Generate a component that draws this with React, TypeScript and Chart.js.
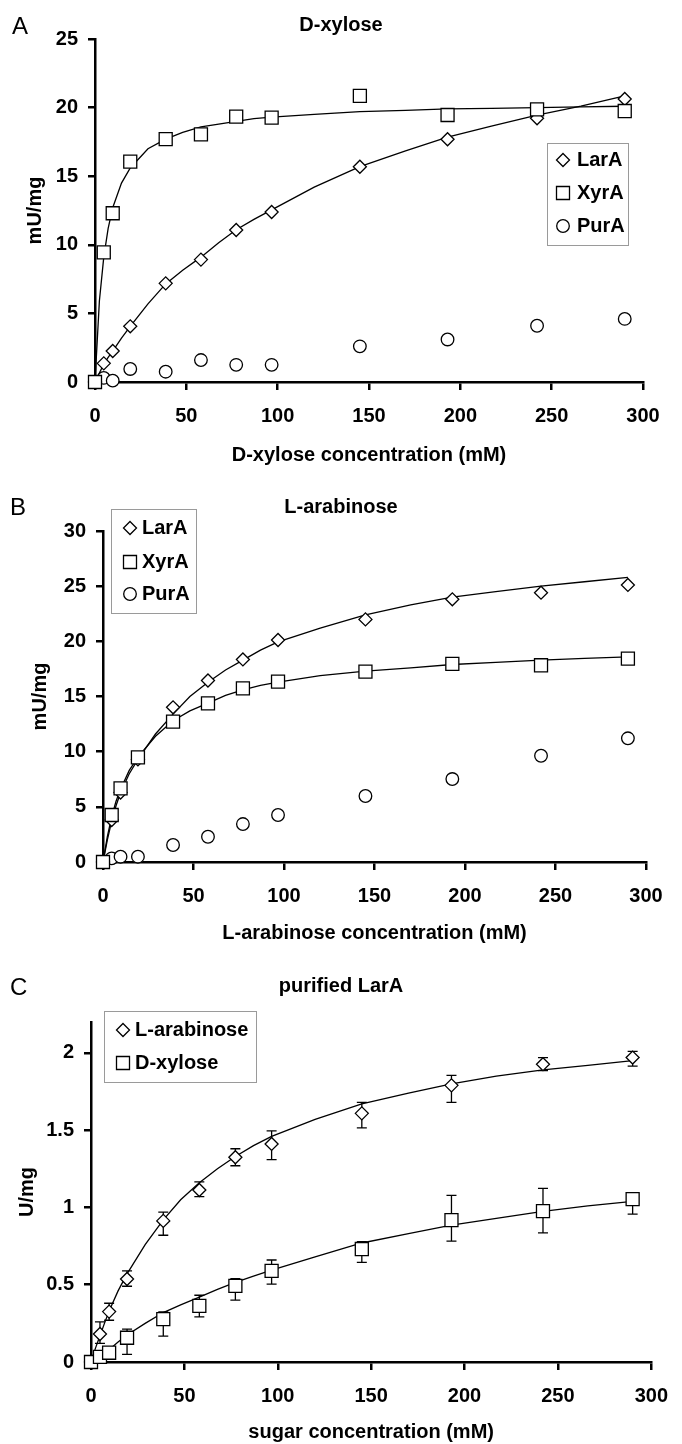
import React, { useEffect, useRef } from 'react';
import { Chart, registerables } from 'chart.js';

Chart.register(...registerables);

const FONT = "'Liberation Sans', Arial, Helvetica, sans-serif";

// ---------- data ----------
const conc = [0, 4.8, 9.7, 19.3, 38.7, 58, 77.3, 96.7, 145, 193, 242, 290];
const fitConc = [0, 2.4, 4.8, 7.2, 9.7, 14.5, 19.3, 29, 38.7, 48, 58, 67.7, 77.3, 87, 96.7, 120, 145, 170, 193, 217, 242, 266, 290];

const xTickValues = [0, 50, 100, 150, 200, 250, 300];
const yTickValuesA = [0, 5, 10, 15, 20, 25];
const yTickValuesB = [0, 5, 10, 15, 20, 25, 30];
const yTickValuesC = [0, 0.5, 1, 1.5, 2];

// Panel A – D-xylose (mU/mg)
const xylLarA = [0, 1.36, 2.26, 4.06, 7.19, 8.92, 11.08, 12.39, 15.69, 17.69, 19.22, 20.63];
const xylXyrA = [0, 9.45, 12.3, 16.06, 17.7, 18.05, 19.34, 19.27, 20.85, 19.46, 19.87, 19.75];
const xylPurA = [0, 0.3, 0.1, 0.95, 0.75, 1.6, 1.25, 1.25, 2.6, 3.1, 4.1, 4.6];
const xylLarAFit = [0, 0.65, 1.3, 1.8, 2.25, 3.2, 4.05, 5.7, 7.15, 8.15, 9.1, 10.15, 11.1, 11.85, 12.55, 14.2, 15.7, 16.85, 17.85, 18.65, 19.45, 20.1, 20.85];
const xylXyrAFit = [0, 5.9, 9.1, 11.2, 12.7, 14.5, 15.6, 17.0, 17.7, 18.2, 18.6, 18.8, 19.0, 19.2, 19.3, 19.5, 19.7, 19.8, 19.9, 19.95, 20.0, 20.05, 20.1];

// Panel B – L-arabinose (mU/mg)
const araLarA = [0, 3.8, 6.3, 9.3, 14.02, 16.45, 18.36, 20.12, 21.99, 23.81, 24.41, 25.11];
const araXyrA = [0, 4.26, 6.68, 9.49, 12.72, 14.37, 15.73, 16.34, 17.25, 17.95, 17.83, 18.44];
const araPurA = [0, 0.33, 0.48, 0.48, 1.54, 2.29, 3.44, 4.26, 5.98, 7.52, 9.63, 11.21];
const araLarAFit = [0, 2.0, 3.7, 5.1, 6.3, 8.0, 9.3, 11.6, 13.4, 15.0, 16.3, 17.4, 18.3, 19.2, 19.95, 21.2, 22.4, 23.3, 24.0, 24.5, 25.0, 25.4, 25.8];
const araXyrAFit = [0, 2.3, 4.1, 5.5, 6.6, 8.3, 9.5, 11.4, 12.8, 13.7, 14.4, 15.1, 15.6, 16.0, 16.3, 16.9, 17.3, 17.6, 17.9, 18.1, 18.3, 18.45, 18.6];

// Panel C – purified LarA (U/mg)
const purAra = [0, 0.181, 0.326, 0.537, 0.913, 1.113, 1.325, 1.411, 1.609, 1.79, 1.927, 1.97];
const purAraHi = [null, 0.26, 0.38, 0.59, 0.97, 1.165, 1.38, 1.495, 1.68, 1.855, 1.97, 2.01];
const purAraLo = [null, 0.12, 0.27, 0.49, 0.82, 1.07, 1.27, 1.31, 1.515, 1.68, 1.885, 1.915];
const purXyl = [0, 0.033, 0.06, 0.157, 0.277, 0.363, 0.493, 0.59, 0.731, 0.918, 0.976, 1.054];
const purXylHi = [null, 0.06, 0.09, 0.213, 0.324, 0.432, 0.54, 0.66, 0.778, 1.078, 1.123, 1.06];
const purXylLo = [null, 0.01, 0.03, 0.049, 0.168, 0.292, 0.4, 0.504, 0.644, 0.782, 0.836, 0.957];
const purAraFit = [0, 0.09, 0.17, 0.25, 0.33, 0.46, 0.57, 0.76, 0.92, 1.05, 1.16, 1.25, 1.33, 1.4, 1.46, 1.57, 1.67, 1.74, 1.8, 1.85, 1.89, 1.92, 1.95];
const purXylFit = [0, 0.02, 0.04, 0.06, 0.08, 0.13, 0.175, 0.25, 0.32, 0.37, 0.42, 0.47, 0.515, 0.555, 0.595, 0.68, 0.77, 0.83, 0.885, 0.93, 0.975, 1.01, 1.04];

// ---------- types ----------
type Marker = 'diamond' | 'square' | 'circle';
interface Series {
  label: string;
  marker: Marker;
  y: number[];
  fit?: number[];
  hi?: (number | null)[];
  lo?: (number | null)[];
}
interface PanelSpec {
  top: number;
  height: number;
  area: { l: number; t: number; r: number; b: number };
  yMax: number;
  yTicks: number[];
  letter: string;
  letterPos: [number, number];
  title: string;
  titlePos: [number, number];
  xTitle: string;
  xTitleY: number;
  yTitle: string;
  yTitleX: number;
  legend: { x: number; y: number; w: number; h: number; markerX: number; textX: number; rows: number[] };
  series: Series[];
}

const panels: PanelSpec[] = [
  {
    top: 0,
    height: 470,
    area: { l: 95, t: 39, r: 643, b: 382 },
    yMax: 25,
    yTicks: yTickValuesA,
    letter: 'A',
    letterPos: [12, 27],
    title: 'D-xylose',
    titlePos: [341, 25],
    xTitle: 'D-xylose concentration (mM)',
    xTitleY: 455,
    yTitle: 'mU/mg',
    yTitleX: 35,
    legend: { x: 547, y: 143, w: 81, h: 102, markerX: 563, textX: 577, rows: [160, 193, 226] },
    series: [
      { label: 'LarA', marker: 'diamond', y: xylLarA, fit: xylLarAFit },
      { label: 'XyrA', marker: 'square', y: xylXyrA, fit: xylXyrAFit },
      { label: 'PurA', marker: 'circle', y: xylPurA },
    ],
  },
  {
    top: 470,
    height: 480,
    area: { l: 103, t: 61, r: 646, b: 392 },
    yMax: 30,
    yTicks: yTickValuesB,
    letter: 'B',
    letterPos: [10, 38],
    title: 'L-arabinose',
    titlePos: [341, 37],
    xTitle: 'L-arabinose concentration (mM)',
    xTitleY: 463,
    yTitle: 'mU/mg',
    yTitleX: 40,
    legend: { x: 111, y: 39, w: 85, h: 104, markerX: 130, textX: 142, rows: [58, 92, 124] },
    series: [
      { label: 'LarA', marker: 'diamond', y: araLarA, fit: araLarAFit },
      { label: 'XyrA', marker: 'square', y: araXyrA, fit: araXyrAFit },
      { label: 'PurA', marker: 'circle', y: araPurA },
    ],
  },
  {
    top: 950,
    height: 494,
    area: { l: 91, t: 72, r: 661, b: 412 },
    yMax: 2.2,
    yTicks: yTickValuesC,
    letter: 'C',
    letterPos: [10, 38],
    title: 'purified LarA',
    titlePos: [341, 36],
    xTitle: 'sugar concentration (mM)',
    xTitleY: 482,
    yTitle: 'U/mg',
    yTitleX: 27,
    legend: { x: 104, y: 61, w: 152, h: 71, markerX: 123, textX: 135, rows: [80, 113] },
    series: [
      { label: 'L-arabinose', marker: 'diamond', y: purAra, fit: purAraFit, hi: purAraHi, lo: purAraLo },
      { label: 'D-xylose', marker: 'square', y: purXyl, fit: purXylFit, hi: purXylHi, lo: purXylLo },
    ],
  },
];

const styleOf: Record<Marker, { ps: string; r: number; order: number }> = {
  diamond: { ps: 'rectRot', r: 6.5, order: 2 },
  square: { ps: 'rect', r: 9.2, order: 1 },
  circle: { ps: 'circle', r: 6.3, order: 3 },
};

function drawMarker(ctx: CanvasRenderingContext2D, m: Marker, x: number, y: number) {
  ctx.beginPath();
  if (m === 'diamond') {
    const r = 6.5;
    ctx.moveTo(x, y - r);
    ctx.lineTo(x + r, y);
    ctx.lineTo(x, y + r);
    ctx.lineTo(x - r, y);
    ctx.closePath();
  } else if (m === 'square') {
    const h = 6.5;
    ctx.rect(x - h, y - h, 2 * h, 2 * h);
  } else {
    ctx.arc(x, y, 6.3, 0, Math.PI * 2);
  }
  ctx.fillStyle = '#fff';
  ctx.fill();
  ctx.lineWidth = 1.3;
  ctx.strokeStyle = '#000';
  ctx.stroke();
}

function buildConfig(spec: PanelSpec): any {
  const datasets: any[] = [];
  spec.series.forEach((s) => {
    const st = styleOf[s.marker];
    datasets.push({
      label: s.label,
      data: conc.map((x, i) => ({ x, y: s.y[i] })),
      showLine: false,
      pointStyle: st.ps,
      pointRadius: st.r,
      pointHoverRadius: st.r,
      pointBackgroundColor: '#fff',
      pointBorderColor: '#000',
      pointBorderWidth: 1.3,
      clip: false,
      order: st.order,
    });
    if (s.fit) {
      datasets.push({
        label: s.label + ' fit',
        data: fitConc.map((x, i) => ({ x, y: s.fit![i] })),
        showLine: true,
        borderColor: '#000',
        borderWidth: 1.3,
        pointRadius: 0,
        pointHoverRadius: 0,
        fill: false,
        tension: 0,
        clip: false,
        order: 10,
      });
    }
  });

  const tickFont = { family: FONT, size: 20, weight: 'bold' as const };
  const { area } = spec;

  const deco = {
    id: 'deco',
    beforeDatasetsDraw(chart: any) {
      const ctx: CanvasRenderingContext2D = chart.ctx;
      const xs = chart.scales.x;
      const ys = chart.scales.y;
      ctx.save();
      ctx.strokeStyle = '#000';
      ctx.lineWidth = 1.3;
      spec.series.forEach((s) => {
        if (!s.hi || !s.lo) return;
        conc.forEach((x, i) => {
          const hi = s.hi![i];
          const lo = s.lo![i];
          if (hi == null || lo == null) return;
          const px = xs.getPixelForValue(x);
          const yh = ys.getPixelForValue(hi);
          const yl = ys.getPixelForValue(lo);
          ctx.beginPath();
          ctx.moveTo(px, yh);
          ctx.lineTo(px, yl);
          ctx.moveTo(px - 5, yh);
          ctx.lineTo(px + 5, yh);
          ctx.moveTo(px - 5, yl);
          ctx.lineTo(px + 5, yl);
          ctx.stroke();
        });
      });
      ctx.restore();
    },
    afterDraw(chart: any) {
      const ctx: CanvasRenderingContext2D = chart.ctx;
      ctx.save();
      ctx.fillStyle = '#000';
      // panel letter
      ctx.font = `24px ${FONT}`;
      ctx.textAlign = 'left';
      ctx.textBaseline = 'middle';
      ctx.fillText(spec.letter, spec.letterPos[0], spec.letterPos[1]);
      // title
      ctx.font = `bold 20px ${FONT}`;
      ctx.textAlign = 'center';
      ctx.fillText(spec.title, spec.titlePos[0], spec.titlePos[1]);
      // x title
      ctx.fillText(spec.xTitle, (chart.chartArea.left + chart.chartArea.right) / 2, spec.xTitleY);
      // y title
      ctx.save();
      ctx.translate(spec.yTitleX, (chart.chartArea.top + chart.chartArea.bottom) / 2);
      ctx.rotate(-Math.PI / 2);
      ctx.fillText(spec.yTitle, 0, 0);
      ctx.restore();
      // legend
      const lg = spec.legend;
      ctx.fillStyle = '#fff';
      ctx.fillRect(lg.x, lg.y, lg.w, lg.h);
      ctx.strokeStyle = '#9a9a9a';
      ctx.lineWidth = 1;
      ctx.strokeRect(lg.x + 0.5, lg.y + 0.5, lg.w, lg.h);
      spec.series.forEach((s, i) => {
        drawMarker(ctx, s.marker, lg.markerX, lg.rows[i]);
        ctx.fillStyle = '#000';
        ctx.font = `bold 20px ${FONT}`;
        ctx.textAlign = 'left';
        ctx.textBaseline = 'middle';
        ctx.fillText(s.label, lg.textX, lg.rows[i]);
      });
      ctx.restore();
    },
  };

  return {
    type: 'scatter',
    data: { datasets },
    plugins: [deco],
    options: {
      animation: false,
      responsive: false,
      maintainAspectRatio: false,
      events: [],
      layout: { padding: { left: 0, top: area.t, right: 682 - area.r, bottom: 0 } },
      plugins: {
        legend: { display: false },
        tooltip: { enabled: false },
        title: { display: false },
      },
      scales: {
        x: {
          type: 'linear',
          min: 0,
          max: 300,
          afterBuildTicks: (s: any) => {
            s.ticks = xTickValues.map((v) => ({ value: v }));
          },
          afterFit: (s: any) => {
            s.height = spec.height - area.b;
          },
          ticks: {
            font: tickFont,
            color: '#000',
            padding: 14,
            maxRotation: 0,
            autoSkip: false,
            callback: (v: any) => String(v),
          },
          grid: { display: true, drawOnChartArea: false, drawTicks: true, tickLength: 8, color: '#000', lineWidth: 2.5 },
          border: { display: true, color: '#000', width: 2.5 },
        },
        y: {
          type: 'linear',
          min: 0,
          max: spec.yMax,
          afterBuildTicks: (s: any) => {
            s.ticks = spec.yTicks.map((v) => ({ value: v }));
          },
          afterFit: (s: any) => {
            s.width = area.l;
          },
          ticks: {
            font: tickFont,
            color: '#000',
            padding: 10,
            autoSkip: false,
            callback: (v: any) => String(v),
          },
          grid: { display: true, drawOnChartArea: false, drawTicks: true, tickLength: 7, color: '#000', lineWidth: 2.5 },
          border: { display: true, color: '#000', width: 2.5 },
        },
      },
    },
  };
}

function Panel({ spec }: { spec: PanelSpec }) {
  const ref = useRef<HTMLCanvasElement>(null);
  useEffect(() => {
    const chart = new Chart(ref.current as HTMLCanvasElement, buildConfig(spec));
    return () => chart.destroy();
  }, [spec]);
  return (
    <canvas
      ref={ref}
      width={682}
      height={spec.height}
      style={{ position: 'absolute', left: 0, top: spec.top, width: 682, height: spec.height }}
    />
  );
}

export default function App() {
  return (
    <div style={{ position: 'absolute', left: 0, top: 0, width: 682, height: 1444, background: '#fff', overflow: 'hidden' }}>
      {panels.map((p, i) => (
        <Panel key={i} spec={p} />
      ))}
    </div>
  );
}
